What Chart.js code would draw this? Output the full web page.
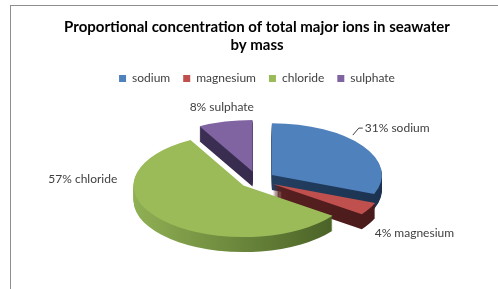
<!DOCTYPE html>
<html>
<head>
<meta charset="utf-8">
<script src="https://cdn.jsdelivr.net/npm/chart.js@4.4.1/dist/chart.umd.min.js"></script>
<style>
  html, body { margin: 0; padding: 0; background: #fff; overflow: hidden; }
  #frame { position: absolute; left: 10px; top: 5px; width: 600px; height: 400px; border: 1px solid #8e8e8e; }
  #wrap { position: absolute; left: 0; top: 0; width: 498px; height: 289px; }
</style>
</head>
<body>
<div id="frame"></div>
<div id="wrap"><canvas id="pie"></canvas></div>
<script>
// data
const ions = ["sodium", "magnesium", "chloride", "sulphate"];
const percents = [31, 4, 57, 8];

// looks
const topColors = ["#4F81BD", "#C0504D", "#9BBB59", "#8064A2"];
const sideColors = [
  ["#2A4A72", "#1B3350"],
  ["#6A2626", "#481A1A"],
  ["#90B054", "#435A22"],
  ["#41335A", "#2C2340"]
];
// label anchor, relative to pie centre in units of the ellipse radii
const labelSpots = [[0.98, -1.0, "left"], [1.07, 1.04, "left"], [-1.27, -0.01, "right"], [-0.32, -1.4, "center"]];
const leader = [true, false, false, false];

const TILT = 0.47;
const DEPTH = 15;
const EXPLODE = 18;

function sideFill(ctx, i, cx, r) {
  const g = ctx.createLinearGradient(cx - r, 0, cx + r, 0);
  g.addColorStop(0, sideColors[i][0]);
  g.addColorStop(1, sideColors[i][1]);
  return g;
}

// squash the pie into an ellipse, pull the slices apart and extrude them downward
const pie3d = {
  id: "pie3d",
  beforeDatasetsDraw(chart) {
    const arcs = chart.getDatasetMeta(0).data;
    const ctx = chart.ctx;
    const cx = arcs[0].x, cy = arcs[0].y;

    const drawSlice = (arc, fill, dy) => {
      const mid = (arc.startAngle + arc.endAngle) / 2;
      const orig = arc.options;
      ctx.save();
      ctx.translate(Math.cos(mid) * EXPLODE, Math.sin(mid) * EXPLODE + dy);
      if (fill) arc.options = Object.assign({}, orig, { backgroundColor: fill });
      arc.draw(ctx);
      arc.options = orig;
      ctx.restore();
    };

    ctx.save();
    ctx.translate(cx, cy);
    ctx.scale(1, TILT);
    ctx.translate(-cx, -cy);
    for (let k = DEPTH; k >= 1; k--) {
      arcs.forEach((arc, i) => drawSlice(arc, sideFill(ctx, i, cx, arc.outerRadius), k / TILT));
    }
    arcs.forEach((arc) => drawSlice(arc, null, 0));
    ctx.restore();
    return false;
  },
  afterDraw(chart) {
    const arcs = chart.getDatasetMeta(0).data;
    const ctx = chart.ctx;
    const cx = arcs[0].x, cy = arcs[0].y;
    const rx = arcs[0].outerRadius, ry = rx * TILT;
    ctx.save();
    ctx.font = "12px Lato";
    ctx.fillStyle = "#404040";
    ctx.strokeStyle = "#404040";
    ctx.lineWidth = 1;
    ctx.textBaseline = "middle";
    arcs.forEach((arc, i) => {
      const x = cx + labelSpots[i][0] * rx;
      const y = cy + labelSpots[i][1] * ry;
      ctx.textAlign = labelSpots[i][2];
      ctx.fillText(percents[i] + "% " + ions[i], x, y);
      if (leader[i]) {
        ctx.beginPath();
        ctx.moveTo(x - 12, y + 7);
        ctx.lineTo(x - 6, y);
        ctx.lineTo(x - 2, y);
        ctx.stroke();
      }
    });
    ctx.restore();
  }
};

new Chart(document.getElementById("pie"), {
  type: "pie",
  data: {
    labels: ions,
    datasets: [{
      data: percents,
      backgroundColor: topColors,
      borderWidth: 0,
      offset: 0,
      hoverOffset: 0,
      clip: false
    }]
  },
  options: {
    responsive: true,
    maintainAspectRatio: false,
    animation: false,
    radius: 110,
    layout: { padding: { left: 16, right: 0, top: 0, bottom: 24 } },
    events: [],
    plugins: {
      title: {
        display: true,
        text: ["Proportional concentration of total major ions in seawater", "by mass"],
        color: "#000",
        font: { family: "Lato", size: 15, weight: "bold", lineHeight: 1.22 },
        padding: { top: 18, bottom: 5 }
      },
      legend: {
        display: true,
        position: "top",
        labels: {
          color: "#404040",
          font: { family: "Lato", size: 12 },
          boxWidth: 7,
          boxHeight: 7,
          padding: 13
        }
      },
      tooltip: { enabled: false }
    }
  },
  plugins: [pie3d]
});
</script>
</body>
</html>
